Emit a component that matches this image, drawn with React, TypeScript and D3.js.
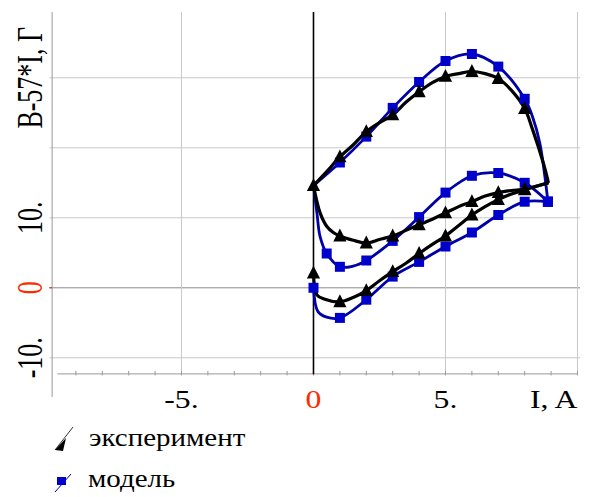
import React from "react";
import * as d3 from "d3";

type P = [number, number, number]; // x, y, marker flag

// Experiment (black, triangles)
const expUpper: P[] = [
  [0, 14.6, 1], [0.5, 16.6, 0], [1, 18.7, 1], [1.5, 20.4, 0], [2, 22.3, 1], [2.5, 23.6, 0],
  [3, 24.7, 1], [3.5, 26.5, 0], [4, 28.0, 1], [4.5, 29.3, 0], [5, 30.2, 1], [5.5, 30.6, 0],
  [6, 30.9, 1], [6.5, 30.6, 0], [7, 29.9, 1], [7.5, 28.2, 0], [8, 25.6, 1], [8.3, 22.6, 0],
  [8.7, 17.9, 0], [8.9, 15.0, 0],
];
const expMiddle: P[] = [
  [0, 14.6, 0], [0.25, 10.7, 0], [0.5, 8.8, 0], [0.75, 7.9, 0], [1, 7.4, 1], [1.5, 6.8, 0],
  [2, 6.4, 1], [2.5, 6.9, 0], [3, 7.4, 1], [3.5, 8.2, 0], [4, 9.0, 1], [4.5, 9.8, 0],
  [5, 10.7, 1], [5.5, 11.6, 0], [6, 12.3, 1], [6.5, 13.1, 0], [7, 13.6, 1], [7.5, 13.9, 0],
  [8, 14.1, 1], [8.9, 15.0, 0],
];
const expLower: P[] = [
  [0, 2.1, 1], [0.13, -1.0, 0], [0.4, -1.6, 0], [1, -2.0, 1], [1.5, -1.4, 0], [2, -0.4, 1],
  [2.5, 1.0, 0], [3, 2.3, 1], [3.5, 3.5, 0], [4, 4.9, 1], [4.5, 6.2, 0], [5, 7.4, 1],
  [5.5, 8.9, 0], [6, 10.4, 1], [6.5, 11.6, 0], [7, 12.6, 1], [7.5, 13.4, 0], [8, 14.0, 1],
  [8.9, 15.0, 0],
];

// Model (blue, squares)
const modUpper: P[] = [
  [0, 14.6, 0], [1, 17.9, 1], [2, 21.6, 1], [3, 25.7, 1], [4, 29.4, 1], [5, 32.4, 1],
  [6, 33.4, 1], [7, 31.6, 1], [8, 27.0, 1], [8.3, 24.4, 0], [8.57, 20.7, 0], [8.88, 12.3, 1],
];
const modMiddle: P[] = [
  [0, 14.6, 0], [0.13, 10.7, 0], [0.25, 7.3, 0], [0.5, 4.9, 1], [1, 3.0, 1], [1.5, 3.1, 0],
  [2, 3.9, 1], [3, 6.7, 1], [4, 10.1, 1], [5, 13.6, 1], [6, 16.0, 1], [7, 16.4, 1],
  [8, 15.0, 1], [8.88, 12.3, 1],
];
const modLower: P[] = [
  [0, 0, 1], [0.17, -3.4, 0], [0.5, -4.2, 0], [1, -4.3, 1], [2, -1.7, 1], [3, 1.6, 1],
  [4, 3.7, 1], [5, 5.9, 1], [6, 7.9, 1], [7, 10.4, 1], [8, 12.3, 1], [8.88, 12.3, 1],
];

const xTickValues = [-5, 0, 5];
const xTickLabels = ["-5.", "0", "5."];
const yTickValues = [-10, 0, 10];
const yTickLabels = ["-10.", "0", "10."];
const yGrid = [-10, 0, 10, 20, 30];
const xGrid = [-5, 5, 10];
const xMinor = d3.range(-9, 11);
const xTitle = "I, A";
const yTitle = "B-57*I, Г";
const legendLabels = ["эксперимент", "модель"];

const W = 591, H = 497;
const x = d3.scaleLinear().domain([-9.7, 10]).range([57.4, 577.5]);
const y = d3.scaleLinear().domain([-15.6, 39.4]).range([397, 12]);

const BLUE_LINE = "#0000a8";
const BLUE_MARK = "#0000cc";
const FONT = "'Liberation Serif', 'Times New Roman', serif";
const FS = 26;
const SX = 1.22;
const SX_ROT = 1.36;
const SX_LEG = 1.115;

const line = d3
  .line<P>()
  .x((d) => x(d[0]))
  .y((d) => y(d[1]))
  .curve(d3.curveCatmullRom.alpha(0.5));

function tri(cx: number, cy: number, s: number) {
  return `M${cx},${cy - s * 0.62}L${cx + s * 0.55},${cy + s * 0.45}L${cx - s * 0.55},${cy + s * 0.45}Z`;
}

export default function App() {
  const axisY = y(-12.3);
  const axisX = x(-9.9);
  const exp = [expUpper, expMiddle, expLower];
  const mod = [modUpper, modMiddle, modLower];
  return (
    <svg
      width={W}
      height={H}
      style={{ position: "absolute", left: 0, top: 0, background: "#fff" }}
      fontFamily={FONT}
    >
      <rect width={W} height={H} fill="#fff" />
      {/* grid */}
      {yGrid.map((v) => (
        <line
          key={"gy" + v}
          x1={x(-10)}
          x2={x(10.1)}
          y1={y(v)}
          y2={y(v)}
          stroke={v === 0 ? "#8a8a8a" : "#c8c8c8"}
          strokeWidth={1}
        />
      ))}
      {xGrid.map((v) => (
        <line key={"gx" + v} x1={x(v)} x2={x(v)} y1={y(39.4)} y2={axisY} stroke="#c8c8c8" strokeWidth={1} />
      ))}
      {/* axes */}
      <line x1={axisX} x2={axisX} y1={y(39.4)} y2={y(-15.6)} stroke="#999" strokeWidth={1} />
      <line x1={x(-9.7)} x2={x(10)} y1={axisY} y2={axisY} stroke="#999" strokeWidth={1} />
      {xMinor.map((v) => (
        <line
          key={"mx" + v}
          x1={x(v)}
          x2={x(v)}
          y1={axisY - 3}
          y2={axisY + 1.5}
          stroke={v === 0 ? "#e03020" : "#999"}
          strokeWidth={1}
        />
      ))}
      <line x1={axisX - 3} x2={axisX} y1={y(0)} y2={y(0)} stroke="#e03020" />
      {/* I = 0 line */}
      <line x1={x(0)} x2={x(0)} y1={y(39.4)} y2={axisY} stroke="#000" strokeWidth={1.6} />

      {/* tick labels */}
      {xTickValues.map((v, i) => (
        <text
          key={"xl" + v}
          transform={`translate(${x(v)},408) scale(${SX},1)`}
          textAnchor="middle"
          fontSize={FS}
          fill={v === 0 ? "#ff2a00" : "#000"}
        >
          {xTickLabels[i]}
        </text>
      ))}
      <text transform={`translate(${x(10)},408) scale(${SX},1)`} textAnchor="end" fontSize={FS}>
        {xTitle}
      </text>
      {yTickValues.map((v, i) => (
        <text
          key={"yl" + v}
          transform={`translate(42,${y(v)}) scale(${SX_ROT},1) rotate(-90)`}
          textAnchor="middle"
          fontSize={FS}
          fill={v === 0 ? "#ff2a00" : "#000"}
        >
          {yTickLabels[i]}
        </text>
      ))}
      <text transform={`translate(42,${y(30)}) scale(${SX_ROT},1) rotate(-90)`} textAnchor="middle" fontSize={FS}>
        {yTitle}
      </text>

      {/* model curves */}
      {mod.map((s, i) => (
        <path key={"ml" + i} d={line(s) || ""} fill="none" stroke={BLUE_LINE} strokeWidth={2.8} strokeLinejoin="round" />
      ))}
      {/* experiment curves */}
      {exp.map((s, i) => (
        <path key={"el" + i} d={line(s) || ""} fill="none" stroke="#000" strokeWidth={3.2} strokeLinejoin="round" />
      ))}
      {mod.map((s, i) =>
        s
          .filter((d) => d[2] === 1)
          .map((d, j) => (
            <rect
              key={"mm" + i + "-" + j}
              x={x(d[0]) - 5}
              y={y(d[1]) - 5}
              width={10}
              height={10}
              fill={BLUE_MARK}
            />
          ))
      )}
      {exp.map((s, i) =>
        s
          .filter((d) => d[2] === 1)
          .map((d, j) => <path key={"em" + i + "-" + j} d={tri(x(d[0]), y(d[1]), 12)} fill="#000" />)
      )}

      {/* legend */}
      <line x1={55} y1={450} x2={73} y2={427} stroke="#000" strokeWidth={0.8} />
      <path d="M55,450 L66,438 L63,451 Z" fill="#000" />
      <text transform={`translate(89,446) scale(${SX_LEG},1)`} fontSize={FS}>
        {legendLabels[0]}
      </text>
      <line x1={55} y1={492} x2={71} y2={474} stroke={BLUE_LINE} strokeWidth={1} />
      <rect x={57} y={477} width={9} height={8} fill={BLUE_MARK} />
      <text transform={`translate(88,487) scale(${SX_LEG},1)`} fontSize={FS}>
        {legendLabels[1]}
      </text>
    </svg>
  );
}
